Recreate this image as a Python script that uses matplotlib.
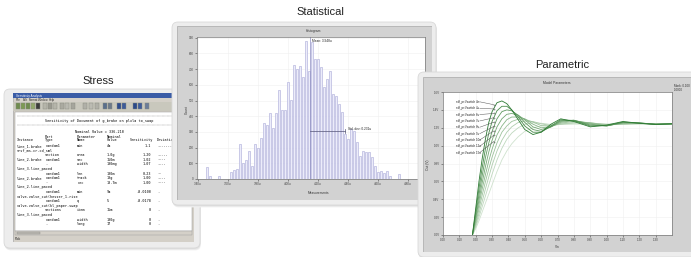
import matplotlib.pyplot as plt
from matplotlib.patches import FancyBboxPatch, Rectangle
from matplotlib.transforms import Affine2D

W, H = 691, 257

# ---------------- data ----------------
# Statistical: histogram bin counts (left to right)
hist_counts = [79, 21, 0, 0, 21, 0, 0, 0, 43, 57, 62, 221, 104, 121, 181, 83, 223, 200,
               260, 360, 345, 419, 323, 419, 568, 440, 440, 621, 504, 728, 700, 717, 647, 877,
               690, 870, 765, 765, 712, 585, 638, 687, 542, 530, 478, 425, 287, 255, 317, 308,
               234, 149, 181, 170, 170, 138, 85, 43, 49, 36, 49, 21, 0, 0, 32]
hist_ticks = [-3, 7, 17, 27, 37, 47, 57, 67]
hist_tick_labels = ['3.40u', '3.60u', '3.80u', '4.00u', '4.20u', '4.40u', '4.60u', '4.80u']
hist_yticks = [0, 100, 200, 300, 400, 500, 600, 700, 800, 900]
hist_mean = 34.4
hist_std_end = 45.9
hist_std_level = 305

# Parametric: response curves sampled at shared x values
par_x = [0.18, 0.20, 0.22, 0.24, 0.26, 0.28, 0.30, 0.33, 0.36, 0.39, 0.42, 0.46,
         0.50, 0.55, 0.60, 0.66, 0.72, 0.80, 0.90, 1.00, 1.10, 1.20, 1.30, 1.40]
par_curves = [
    [0, 1.5, 3.0, 4.3, 5.4, 6.3, 6.9, 7.4, 7.5, 7.35, 7.0, 6.45, 5.9, 5.62, 5.75, 6.2, 6.5, 6.35, 6.05, 6.15, 6.35, 6.25, 6.18, 6.22],
    [0, 1.3, 2.6, 3.8, 4.85, 5.7, 6.35, 6.95, 7.2, 7.2, 7.0, 6.6, 6.1, 5.75, 5.75, 6.1, 6.45, 6.4, 6.1, 6.12, 6.32, 6.26, 6.2, 6.22],
    [0, 1.1, 2.25, 3.35, 4.35, 5.15, 5.8, 6.5, 6.9, 7.0, 6.95, 6.7, 6.3, 5.9, 5.8, 6.05, 6.4, 6.42, 6.15, 6.1, 6.3, 6.27, 6.2, 6.22],
    [0, 0.95, 1.95, 2.95, 3.85, 4.65, 5.3, 6.05, 6.5, 6.75, 6.8, 6.7, 6.45, 6.05, 5.9, 6.05, 6.35, 6.42, 6.2, 6.1, 6.28, 6.27, 6.2, 6.22],
    [0, 0.8, 1.7, 2.6, 3.4, 4.15, 4.8, 5.6, 6.1, 6.45, 6.6, 6.6, 6.5, 6.2, 6.0, 6.05, 6.3, 6.4, 6.25, 6.12, 6.25, 6.26, 6.2, 6.22],
    [0, 0.65, 1.45, 2.25, 3.0, 3.7, 4.35, 5.15, 5.75, 6.1, 6.35, 6.48, 6.48, 6.32, 6.12, 6.08, 6.25, 6.36, 6.28, 6.15, 6.22, 6.25, 6.2, 6.22],
    [0, 0.55, 1.2, 1.9, 2.6, 3.25, 3.9, 4.7, 5.3, 5.75, 6.05, 6.3, 6.38, 6.35, 6.22, 6.12, 6.2, 6.3, 6.28, 6.18, 6.2, 6.24, 6.2, 6.22],
    [0, 0.45, 1.0, 1.6, 2.2, 2.8, 3.4, 4.2, 4.85, 5.35, 5.7, 6.0, 6.2, 6.28, 6.25, 6.18, 6.2, 6.25, 6.25, 6.2, 6.2, 6.22, 6.2, 6.22],
    [0, 0.35, 0.8, 1.3, 1.8, 2.3, 2.8, 3.55, 4.2, 4.7, 5.1, 5.5, 5.8, 6.0, 6.1, 6.15, 6.18, 6.2, 6.21, 6.2, 6.2, 6.21, 6.2, 6.22],
]
par_colors = ['#2e7b34', '#4a8c4c', '#5f9a60', '#74a874', '#88b588',
              '#9cc29b', '#aecdad', '#bfd8be', '#cfe2ce']
par_labels = ['sdf_pr:Vswitch 4n', 'sdf_pr:Vswitch 4u', 'sdf_pr:Vswitch 6u', 'sdf_pr:Vswitch 7u',
              'sdf_pr:Vswitch 8u', 'sdf_pr:Vswitch 9u', 'sdf_pr:Vswitch 10u', 'sdf_pr:Vswitch 12u',
              'sdf_pr:Vswitch 15u']
par_label_y = [7.45, 7.09, 6.74, 6.38, 6.03, 5.67, 5.32, 4.96, 4.61]
par_target_y = [7.29, 7.05, 6.80, 6.56, 6.31, 6.07, 5.82, 5.58, 5.23]
par_xticks = [0.0, 0.1, 0.2, 0.3, 0.4, 0.5, 0.6, 0.7, 0.8, 0.9, 1.0, 1.1, 1.2, 1.3]
par_yticks = [0, 1, 2, 3, 4, 5, 6, 7, 8]
par_ytick_labels = ['0.0V', '0.2V', '0.4V', '0.6V', '0.8V', '1.0V', '1.2V', '1.4V', '1.6V']

# Stress: sensitivity report rows (instance, type, parameter, nominal, sensitivity, bar)
stress_rows = [
    ('line_1.brake', 'random1', 'min', '4m', '1.1', '-------'),
    ('srsf_ms.cr.cd_sml', '', '', '', '', ''),
    ('', 'section', 'area', '1.0g', '1.20', '-----'),
    ('line_2.brake', 'random1', 'sec', '150m', '1.02', '----'),
    ('', '-', 'width', '100mg', '1.07', '----'),
    ('line_3.line_paced', '', '', '', '', ''),
    ('', 'random1', 'len', '100m', '0.23', '--'),
    ('line_2.brake', 'random1', 'track', '10g', '1.00', '----'),
    ('', '-', 'rec', '10.7m', '1.00', '----'),
    ('line_2.line_paced', '', '', '', '', ''),
    ('', 'random1', 'min', '9m', '-0.0100', '.'),
    ('valve.valve_cut(hesser_1.rise', '', '', '', '', ''),
    ('', 'random1', 'q', '5', '-0.0178', '.'),
    ('valve.valve_cut(kl_paper.swap', '', '', '', '', ''),
    ('', 'sections', 'item', '15m', '0', '.'),
    ('line_3.line_paced', '', '', '', '', ''),
    ('', 'random1', 'width', '100g', '0', '.'),
    ('', '-', 'long', '17', '0', '.'),
]
menu = ['File', 'Edit', 'Format', 'Window', 'Help']
menu_x = [16, 22.5, 29, 38, 48.5]

# ---------------- figure helpers (pixel coordinates, origin top-left) ----------------
fig = plt.figure(figsize=(W / 100, H / 100), dpi=100)
fig.patch.set_facecolor('white')
plt.rcParams['font.family'] = ['Liberation Sans', 'DejaVu Sans']
PX = Affine2D().scale(1, -1).translate(0, H).scale(1 / W, 1 / H) + fig.transFigure


def box(x0, y0, x1, y1):
    return [x0 / W, 1 - y1 / H, (x1 - x0) / W, (y1 - y0) / H]


def card(x0, y0, x1, y1, z):
    for d, c in [(3, '#f1f1f1'), (2, '#e6e6e6'), (1, '#dddddd')]:
        fig.add_artist(FancyBboxPatch((x0 + d * 0.3, y0 + d * 0.8), x1 - x0, y1 - y0,
                                      boxstyle='round,pad=0,rounding_size=6', transform=PX,
                                      fc=c, ec='none', zorder=z - 0.1))
    fig.add_artist(FancyBboxPatch((x0, y0), x1 - x0, y1 - y0,
                                  boxstyle='round,pad=0,rounding_size=6', transform=PX,
                                  fc='#ededed', ec='#d9d9d9', lw=0.6, zorder=z))


def win_ax(x0, y0, x1, y1, z, fc):
    ax = fig.add_axes(box(x0, y0, x1, y1), zorder=z)
    ax.set_xlim(x0, x1)
    ax.set_ylim(y1, y0)
    ax.set_axis_off()
    ax.add_patch(Rectangle((x0, y0), x1 - x0, y1 - y0, fc=fc, ec='#a8a8a8', lw=0.5))
    return ax


def rect(ax, x0, y0, x1, y1, fc, ec='none', lw=0.3):
    ax.add_patch(Rectangle((x0, y0), x1 - x0, y1 - y0, fc=fc, ec=ec, lw=lw))


def tiny_ticks(ax, size=2.2):
    ax.tick_params(labelsize=size, length=1.5, width=0.4, pad=1, colors='#444444')
    for s in ax.spines.values():
        s.set_linewidth(0.5)
        s.set_color('#777777')


# ---------------- Stress window ----------------
card(4, 89, 200, 248, 1)
ax_s = win_ax(13, 93, 194, 242, 2, '#d4d0c8')
rect(ax_s, 13, 93, 194, 98, '#3a5ca6')
ax_s.text(16, 95.6, 'Sensitivity Analysis', fontsize=2.2, color='white', va='center')
for m, mx in zip(menu, menu_x):
    ax_s.text(mx, 100.2, m, fontsize=2.1, va='center', color='#222222')
rect(ax_s, 13, 102, 194, 111, '#c9c8bd')
icons = [(16, '#6f8c4e'), (21, '#7d9a55'), (26, '#6f8c4e'), (31, '#92a86c'), (36, '#3b3b3b'),
         (43, '#b5b5aa'), (48, '#9a9a90'), (53, '#b5b5aa'), (60, '#aaaaa0'), (65, '#b9b9b0'),
         (71, '#a5a59c'), (83, '#b0b0a8'), (89, '#bbbbb2'), (95, '#b0b0a8'), (103, '#5a6f8c'),
         (108, '#6d7a8a'), (117, '#2e4c8c'), (122, '#3d5b99'), (133, '#2b4a8a'), (138, '#3d5b99'),
         (145, '#6b7d99')]
for x, c in icons:
    rect(ax_s, x, 103.5, x + 4, 109.5, c, ec='#8a8a80')
rect(ax_s, 15, 112, 192, 231, 'white', ec='#888888')
ax_s.plot([17, 192], [116.5, 116.5], ls=(0, (1, 1)), lw=0.3, color='#555555')
ax_s.text(45, 121, 'Sensitivity of Document of g_brake on plxla to_swap', fontsize=2.5,
          family='DejaVu Sans Mono', va='center', clip_on=True)
ax_s.plot([17, 192], [125, 125], ls=(0, (1, 1)), lw=0.3, color='#555555')
ax_s.text(75, 132, 'Nominal Value = 336.210', fontsize=2.5, family='DejaVu Sans Mono',
          va='center', clip_on=True)
col_x = [17, 45, 77, 107, 151, 157]
for cx, h1, h2 in zip(col_x, ['', 'Part', 'Parameter', 'Nominal', '', ''],
                      ['Instance', 'Type', 'Name', 'Value', 'Sensitivity', 'Deviation']):
    ha = 'right' if cx == 151 else 'left'
    if cx == 151:
        cx = 153
    ax_s.text(cx, 137, h1, fontsize=2.5, family='DejaVu Sans Mono', va='center', ha=ha, clip_on=True)
    ax_s.text(cx, 140.5, h2, fontsize=2.5, family='DejaVu Sans Mono', va='center', ha=ha, clip_on=True)
for i, row in enumerate(stress_rows):
    y = 146 + i * 4.6
    for j, (cx, t) in enumerate(zip(col_x, row)):
        ax_s.text(cx, y, t, fontsize=2.5, family='DejaVu Sans Mono', va='center',
                  ha='right' if j == 4 else 'left', clip_on=True)
rect(ax_s, 15, 231, 192, 235, '#d4d0c8', ec='#999999')
rect(ax_s, 17, 231.8, 40, 234.2, '#bdbab2', ec='#888888')
ax_s.text(15, 238.5, 'Pick', fontsize=2.3, va='center', color='#222222')

# ---------------- Statistical window ----------------
card(172, 22, 436, 205, 3)
ax_w = win_ax(177, 26, 432, 200, 4, '#d2d2d2')
ax_w.text(313, 31, 'Histogram', fontsize=2.4, ha='center', va='center', color='#333333')
ax_w.text(318, 193, 'Measurements', fontsize=2.3, ha='center', va='center', color='#333333')
ax_w.text(186.5, 110, 'Count', fontsize=2.3, ha='center', va='center', rotation=90, color='#333333')

ax_h = fig.add_axes(box(197, 37, 425, 179), zorder=4.5)
ax_h.bar(range(len(hist_counts)), hist_counts, width=0.75, color='#ececfa',
         edgecolor='#a9a9d8', linewidth=0.4)
ax_h.set_xlim(-3.3, 72.7)
ax_h.set_ylim(0, 905)
ax_h.set_xticks(hist_ticks)
ax_h.set_xticklabels(hist_tick_labels)
ax_h.set_yticks(hist_yticks)
ax_h.grid(True, color='#f0f0f0', lw=0.4)
ax_h.set_axisbelow(True)
tiny_ticks(ax_h, 2.2)
ax_h.axvline(hist_mean, color='#8c8cc0', lw=0.5)
ax_h.plot([hist_mean, hist_std_end], [hist_std_level, hist_std_level], color='#555577', lw=0.5)
ax_h.plot([hist_std_end, hist_std_end], [hist_std_level - 15, hist_std_level + 15], color='#555577', lw=0.5)
ax_h.text(hist_mean + 0.8, 880, 'Mean: 3.948u', fontsize=2.3, va='center', color='#222222')
ax_h.text(hist_std_end + 1.2, 320, 'Std. dev: 0.231u', fontsize=2.3, va='center', color='#222222')

# ---------------- Parametric window ----------------
card(418, 72, 704, 257, 5)
ax_pw = win_ax(423, 77, 704, 252, 6, '#d2d2d2')
ax_pw.text(557, 83, 'Model Parameters', fontsize=2.4, ha='center', va='center', color='#333333')
ax_pw.text(674, 86, 'Mark: 0.100', fontsize=2.2, va='center', color='#333333')
ax_pw.text(674, 90, '1.0000', fontsize=2.2, va='center', color='#333333')
ax_pw.text(557, 246.5, 'Vin', fontsize=2.3, ha='center', va='center', color='#333333')
ax_pw.text(428.5, 165, 'Out (V)', fontsize=2.3, ha='center', va='center', rotation=90, color='#333333')

ax_p = fig.add_axes(box(443, 92, 672, 235), zorder=6.5)
for ys, c in zip(par_curves[::-1], par_colors[::-1]):
    ax_p.plot(par_x, ys, color=c, lw=0.6)
ax_p.set_xlim(0, 1.4)
ax_p.set_ylim(0, 8)
ax_p.set_xticks(par_xticks)
ax_p.set_xticklabels(['%.2f' % v for v in par_xticks])
ax_p.set_yticks(par_yticks)
ax_p.set_yticklabels(par_ytick_labels)
ax_p.grid(True, color='#efefef', lw=0.4)
ax_p.set_axisbelow(True)
tiny_ticks(ax_p, 2.2)
for lab, ly, ty in zip(par_labels, par_label_y, par_target_y):
    ax_p.text(0.08, ly, lab, fontsize=2.1, va='center', color='#222222')
    ax_p.plot([0.225, 0.31], [ly, ty], color='#555555', lw=0.35)
    ax_p.plot([0.31], [ty], marker='o', ms=0.8, mfc='none', mec='#555555', mew=0.3)

# ---------------- section titles ----------------
for label, x, y in [('Statistical', 320, 12), ('Stress', 98, 81), ('Parametric', 562, 65)]:
    fig.text(x, y, label, transform=PX, fontsize=8, ha='center', va='center',
             color='#222222', zorder=10)

fig.savefig('out.png', dpi=100, facecolor='white')
